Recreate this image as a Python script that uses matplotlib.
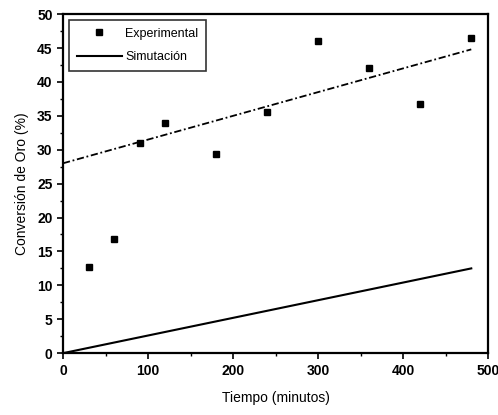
import matplotlib
matplotlib.use("Agg")
import matplotlib.pyplot as plt
import numpy as np
from matplotlib.ticker import MultipleLocator

# datos experimentales
tiempo = [30, 60, 90, 120, 180, 240, 300, 360, 420, 480]
conversion = [12.7, 16.8, 31.0, 34.0, 29.3, 35.6, 46.0, 42.1, 36.8, 46.5]

# tendencia (punto-raya) y simulacion
tend_x = [0, 480]
tend_y = [28.0, 44.8]
sim_x = [0, 480]
sim_y = [0.0, 12.5]

plt.rcParams['font.family'] = ['Liberation Sans', 'DejaVu Sans']

fig = plt.figure(figsize=(4.98, 4.15), dpi=100)
ax = fig.add_axes([0.1265, 0.149, 0.854, 0.817])

ax.plot(tiempo, conversion, 's', color='black', markersize=3.8, label='Experimental')
ax.plot(sim_x, sim_y, '-', color='black', linewidth=1.5, label='Simutación')
ax.plot(tend_x, tend_y, linestyle=(0, (4, 1.5, 1, 1.5)), color='black', linewidth=1.3)

ax.set_xlim(0, 500)
ax.set_ylim(0, 50)
ax.xaxis.set_major_locator(MultipleLocator(100))
ax.xaxis.set_minor_locator(MultipleLocator(50))
ax.yaxis.set_major_locator(MultipleLocator(5))
ax.yaxis.set_minor_locator(MultipleLocator(2.5))
ax.tick_params(which='major', direction='out', length=4, width=1.2, labelsize=10)
ax.tick_params(which='minor', direction='out', length=2.5, width=1)
for lab in ax.get_xticklabels() + ax.get_yticklabels():
    lab.set_fontweight('bold')
for s in ax.spines.values():
    s.set_linewidth(1.6)

ax.set_xlabel('Tiempo (minutos)', fontsize=10, labelpad=10)
ax.set_ylabel('Conversión de Oro (%)', fontsize=10, labelpad=6)

leg = ax.legend(loc='upper left', fontsize=9, frameon=True, fancybox=False,
                edgecolor='black', handlelength=3.6, labelspacing=0.9,
                borderpad=0.6, borderaxespad=0.5, handletextpad=0.3)
leg.get_frame().set_linewidth(1.2)

fig.savefig('out.png', dpi=100)
